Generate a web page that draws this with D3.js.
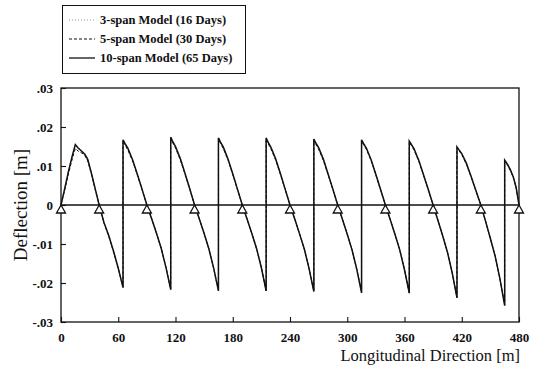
<!DOCTYPE html>
<html>
<head>
<meta charset="utf-8">
<script src="https://cdn.jsdelivr.net/npm/d3@7"></script>
<style>
  body { margin: 0; background: #fff; }
  svg { display: block; }
  text { font-family: "Liberation Serif", "Times New Roman", serif; fill: #111; }
</style>
</head>
<body>
<svg id="chart" width="541" height="369"></svg>
<script>
// station along the bridge [m]; repeated values are the construction joints
var stationM = [
  0, 4, 8, 12, 15, 18, 22, 25, 28, 32, 36, 40, 45, 50, 55, 60, 65,
  65, 67, 70, 75, 80, 85, 90, 95, 100, 105, 110, 115,
  115, 117, 120, 125, 130, 135, 140, 145, 150, 155, 160, 165,
  165, 167, 170, 175, 180, 185, 190, 195, 200, 205, 210, 215,
  215, 217, 220, 225, 230, 235, 240, 245, 250, 255, 260, 265,
  265, 267, 270, 275, 280, 285, 290, 295, 300, 305, 310, 315,
  315, 317, 320, 325, 330, 335, 340, 345, 350, 355, 360, 365,
  365, 367, 370, 375, 380, 385, 390, 395, 400, 405, 410, 415,
  415, 417, 420, 425, 430, 435, 440, 445, 450, 455, 460, 465,
  465, 468, 471, 474, 477, 480
];

// 10-span model (65 days) - solid
var span10 = [
  0, .0043, .0088, .0128, .0155, .0146, .0137, .0130, .0117, .0080, .0040, 0, -.0045, -.0078, -.0118, -.0162, -.0212,
  .0167, .0158, .0146, .0116, .0079, .0040, 0, -.0035, -.0072, -.0111, -.0160, -.0217,
  .0174, .0163, .0150, .0119, .0081, .0041, 0, -.0036, -.0073, -.0113, -.0162, -.0220,
  .0172, .0162, .0149, .0118, .0080, .0040, 0, -.0036, -.0073, -.0112, -.0161, -.0220,
  .0172, .0161, .0148, .0118, .0080, .0040, 0, -.0036, -.0074, -.0113, -.0163, -.0222,
  .0169, .0159, .0147, .0117, .0079, .0040, 0, -.0037, -.0075, -.0115, -.0165, -.0225,
  .0167, .0158, .0146, .0116, .0078, .0039, 0, -.0037, -.0075, -.0115, -.0166, -.0226,
  .0164, .0156, .0144, .0114, .0077, .0039, 0, -.0039, -.0079, -.0121, -.0174, -.0238,
  .0149, .0142, .0132, .0106, .0072, .0036, 0, -.0042, -.0086, -.0131, -.0189, -.0258,
  .0115, .0104, .0090, .0072, .0045, 0
];

// 5-span model (30 days) - dashed
var span5 = [
  0, .0040, .0082, .0120, .0145, .0138, .0133, .0127, .0113, .0078, .0038, 0, -.0046, -.0080, -.0120, -.0163, -.0210,
  .0165, .0154, .0141, .0113, .0077, .0039, 0, -.0035, -.0072, -.0111, -.0160, -.0216,
  .0171, .0160, .0146, .0116, .0079, .0040, 0, -.0036, -.0073, -.0113, -.0162, -.0219,
  .0170, .0159, .0145, .0116, .0078, .0039, 0, -.0036, -.0073, -.0112, -.0161, -.0220,
  .0170, .0158, .0144, .0115, .0078, .0039, 0, -.0036, -.0074, -.0113, -.0163, -.0221,
  .0167, .0156, .0143, .0114, .0077, .0039, 0, -.0037, -.0075, -.0115, -.0165, -.0224,
  .0165, .0155, .0143, .0114, .0077, .0038, 0, -.0037, -.0075, -.0115, -.0166, -.0225,
  .0162, .0153, .0141, .0112, .0076, .0038, 0, -.0039, -.0079, -.0121, -.0174, -.0237,
  .0147, .0140, .0129, .0104, .0071, .0035, 0, -.0042, -.0086, -.0131, -.0189, -.0257,
  .0114, .0102, .0088, .0071, .0044, 0
];

// 3-span model (16 days) - dotted
var span3 = [
  0, .0044, .0089, .0129, .0153, .0147, .0139, .0132, .0119, .0082, .0041, 0, -.0044, -.0077, -.0117, -.0161, -.0211,
  .0166, .0157, .0147, .0118, .0081, .0041, 0, -.0035, -.0071, -.0110, -.0159, -.0216,
  .0173, .0163, .0151, .0121, .0082, .0042, 0, -.0036, -.0072, -.0112, -.0161, -.0219,
  .0171, .0162, .0150, .0120, .0081, .0041, 0, -.0036, -.0072, -.0111, -.0160, -.0219,
  .0171, .0161, .0149, .0120, .0081, .0041, 0, -.0036, -.0073, -.0112, -.0162, -.0221,
  .0168, .0159, .0148, .0119, .0080, .0041, 0, -.0037, -.0074, -.0114, -.0164, -.0224,
  .0166, .0158, .0147, .0118, .0079, .0040, 0, -.0037, -.0074, -.0114, -.0165, -.0225,
  .0163, .0156, .0145, .0116, .0078, .0040, 0, -.0039, -.0078, -.0120, -.0173, -.0237,
  .0148, .0142, .0133, .0108, .0073, .0037, 0, -.0042, -.0085, -.0130, -.0188, -.0257,
  .0115, .0105, .0091, .0073, .0046, 0
];

var supports = [0, 40, 90, 140, 190, 240, 290, 340, 390, 440, 480];

var xTicks = [0, 60, 120, 180, 240, 300, 360, 420, 480];
var xMinorTicks = [30, 90, 150, 210, 270, 330, 390, 450];
var yTicks = [-.03, -.02, -.01, 0, .01, .02, .03];
var yTickLabels = ["-.03", "-.02", "-.01", "0", ".01", ".02", ".03"];
var yMinorTicks = [-.025, -.015, -.005, .005, .015, .025];

var legendNames = ["3-span Model (16 Days)", "5-span Model (30 Days)", "10-span Model (65 Days)"];

var serif = '"Liberation Serif", "Times New Roman", serif';
var svg = d3.select("#chart");

var x = d3.scaleLinear().domain([0, 480]).range([61, 519]);
var y = d3.scaleLinear().domain([-0.03, 0.03]).range([322, 88]);

// frame
svg.append("rect")
  .attr("x", x(0)).attr("y", y(0.03))
  .attr("width", x(480) - x(0)).attr("height", y(-0.03) - y(0.03))
  .attr("fill", "none").attr("stroke", "#111").attr("stroke-width", 1.3);

// x axis (ticks point inward)
var gx = svg.append("g").attr("transform", "translate(0," + y(-0.03) + ")");
gx.call(d3.axisBottom(x).tickValues(xMinorTicks).tickSize(-3).tickFormat(""));
gx.call(d3.axisBottom(x).tickValues(xTicks).tickSize(-5).tickPadding(11).tickFormat(d3.format("d")));
gx.selectAll("path.domain").remove();

// y axis
var gy = svg.append("g").attr("transform", "translate(" + x(0) + ",0)");
gy.call(d3.axisLeft(y).tickValues(yMinorTicks).tickSize(-3).tickFormat(""));
gy.call(d3.axisLeft(y).tickValues(yTicks).tickSize(-5).tickPadding(8)
  .tickFormat(function(d, i) { return yTickLabels[i]; }));
gy.selectAll("path.domain").remove();

svg.selectAll(".tick text")
  .attr("font-family", null)
  .style("font-family", serif)
  .style("font-size", "13px")
  .style("font-weight", "bold")
  .attr("fill", "#111");
svg.selectAll(".tick line").attr("stroke", "#111").attr("stroke-width", 1.1);

// zero line
svg.append("line")
  .attr("x1", x(0)).attr("x2", x(480))
  .attr("y1", y(0)).attr("y2", y(0))
  .attr("stroke", "#111").attr("stroke-width", 1.7);

// curves
var line = d3.line()
  .x(function(d) { return x(d[0]); })
  .y(function(d) { return y(d[1]); });

function pairs(vals) {
  return stationM.map(function(s, i) { return [s, vals[i]]; });
}

svg.append("path").datum(pairs(span3))
  .attr("d", line).attr("fill", "none")
  .attr("stroke", "#777").attr("stroke-width", 0.8).attr("stroke-dasharray", "1,2");

svg.append("path").datum(pairs(span5))
  .attr("d", line).attr("fill", "none")
  .attr("stroke", "#111").attr("stroke-width", 1).attr("stroke-dasharray", "3,2");

svg.append("path").datum(pairs(span10))
  .attr("d", line).attr("fill", "none")
  .attr("stroke", "#111").attr("stroke-width", 1.5);

// supports
svg.selectAll("path.support").data(supports).enter().append("path")
  .attr("class", "support")
  .attr("d", function(d) {
    var cx = x(d), cy = y(0);
    return "M" + cx + "," + cy + "L" + (cx + 4.5) + "," + (cy + 8) + "L" + (cx - 4.5) + "," + (cy + 8) + "Z";
  })
  .attr("fill", "#fff").attr("stroke", "#111").attr("stroke-width", 1.3);

// axis titles
svg.append("text")
  .attr("transform", "translate(27," + y(0) + ") rotate(-90)")
  .attr("text-anchor", "middle")
  .style("font-size", "19px")
  .text("Deflection [m]");

svg.append("text")
  .attr("x", 520).attr("y", 361)
  .attr("text-anchor", "end")
  .style("font-size", "16.5px")
  .text("Longitudinal Direction [m]");

// legend
var lg = svg.append("g");
lg.append("rect")
  .attr("x", 62.5).attr("y", 5.5).attr("width", 183).attr("height", 68)
  .attr("fill", "#fff").attr("stroke", "#111").attr("stroke-width", 1);

var legendStyles = [
  { dash: "1,2", color: "#777", w: 0.8 },
  { dash: "3,2", color: "#111", w: 1 },
  { dash: null, color: "#111", w: 1.3 }
];

legendNames.forEach(function(name, i) {
  var ly = 20 + i * 19;
  lg.append("line")
    .attr("x1", 69).attr("x2", 95).attr("y1", ly).attr("y2", ly)
    .attr("stroke", legendStyles[i].color)
    .attr("stroke-width", legendStyles[i].w)
    .attr("stroke-dasharray", legendStyles[i].dash);
  lg.append("text")
    .attr("x", 100).attr("y", ly + 4)
    .style("font-size", "12.5px").style("font-weight", "bold")
    .text(name);
});
</script>
</body>
</html>
